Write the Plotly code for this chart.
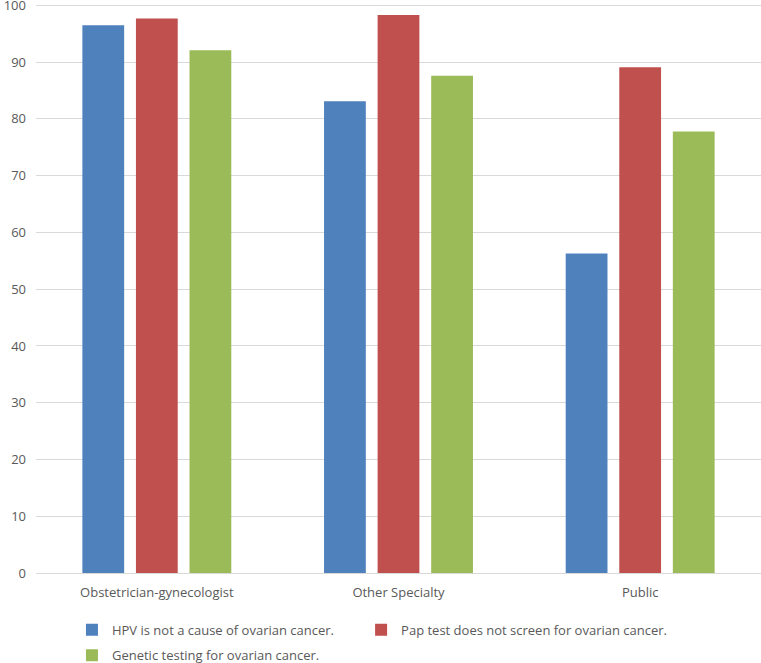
import plotly.graph_objects as go

categories = ["Obstetrician-gynecologist", "Other Specialty", "Public"]
series_names = [
    "HPV is not a cause of ovarian cancer.",
    "Pap test does not screen for ovarian cancer.",
    "Genetic testing for ovarian cancer.",
]
hpv = [96.5, 83.1, 56.3]
pap = [97.7, 98.3, 89.1]
genetic = [92.1, 87.6, 77.8]
colors = ["#4f81bd", "#c0504d", "#9bbb59"]
y_ticks = [0, 10, 20, 30, 40, 50, 60, 70, 80, 90, 100]

font = dict(family="Open Sans, Noto Sans, sans-serif", size=13, color="#595959")

fig = go.Figure()
for name, vals, col, lg in zip(series_names, [hpv, pap, genetic], colors,
                               ["legend", "legend3", "legend2"]):
    fig.add_trace(go.Bar(x=categories, y=vals, name=name, marker_color=col,
                         marker_line_width=0, legend=lg))

leg_common = dict(orientation="h", xanchor="left", yanchor="top", font=font,
                  bgcolor="rgba(0,0,0,0)")

fig.update_layout(
    width=761, height=663,
    margin=dict(l=36, r=0, t=2, b=90, autoexpand=False),
    plot_bgcolor="white", paper_bgcolor="white",
    font=font,
    barmode="group", bargap=0.335, bargroupgap=0.22,
    yaxis=dict(range=[0, 100.6], tickvals=y_ticks, showgrid=True,
               gridcolor="#d9d9d9", gridwidth=1, zeroline=True,
               zerolinecolor="#d9d9d9", zerolinewidth=1, showline=False,
               ticks="", ticklabelstandoff=9, tickfont=font, automargin=False,
               ticklabeloverflow="allow"),
    xaxis=dict(showline=False, ticks="", tickfont=font, ticklabelstandoff=10,
               automargin=False),
    legend=dict(x=0.0496, y=-0.073, **leg_common),
    legend3=dict(x=0.4484, y=-0.073, **leg_common),
    legend2=dict(x=0.0496, y=-0.118, **leg_common),
    showlegend=True,
)

fig.write_html("out.html", config={"displayModeBar": False},
               post_script="document.body.style.margin='0';document.body.style.overflow='hidden';")
